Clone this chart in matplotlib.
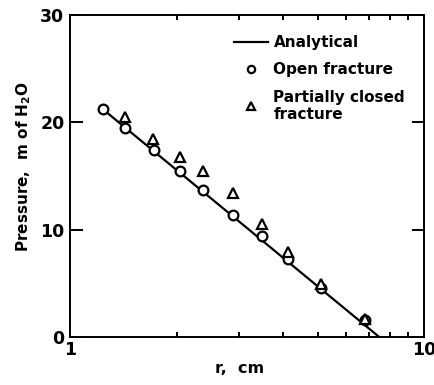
import numpy as np
import matplotlib
matplotlib.use("Agg")
import matplotlib.pyplot as plt
from matplotlib.ticker import FixedLocator, NullFormatter

# values
r_open = [1.24, 1.43, 1.73, 2.05, 2.37, 2.88, 3.49, 4.12, 5.13, 6.80]
p_open = [21.2, 19.5, 17.4, 15.5, 13.7, 11.4, 9.4, 7.3, 4.6, 1.6]

r_closed = [1.43, 1.72, 2.05, 2.37, 2.88, 3.49, 4.12, 5.13, 6.80]
p_closed = [20.5, 18.4, 16.8, 15.5, 13.4, 10.5, 7.9, 4.9, 1.7]

r_analytic = [1.24, 7.46]
p_analytic = [21.2, 0.0]

y_ticks = [0, 10, 20, 30]
x_major = [1, 10]
x_minor = [2, 3, 4, 5, 6, 7, 8, 9]

plt.rcParams['font.family'] = ['DejaVu Sans']
plt.rcParams['font.weight'] = 'bold'

fig = plt.figure(figsize=(4.35, 3.85), dpi=100)
ax = fig.add_axes([0.161, 0.125, 0.814, 0.836])

ax.plot(r_analytic, p_analytic, color='black', lw=1.6, label='Analytical')
ax.plot(r_open, p_open, ls='none', marker='o', ms=7, mfc='white',
        mec='black', mew=1.6, label='Open fracture')
ax.plot(r_closed, p_closed, ls='none', marker='^', ms=7, mfc='white',
        mec='black', mew=1.6, label='Partially closed\nfracture')

ax.set_xscale('log')
ax.set_xlim(1, 10)
ax.set_ylim(0, 30)
ax.xaxis.set_major_locator(FixedLocator(x_major))
ax.xaxis.set_minor_locator(FixedLocator(x_minor))
ax.xaxis.set_minor_formatter(NullFormatter())
ax.set_xticklabels(['1', '10'])
ax.set_yticks(y_ticks)

ax.tick_params(which='both', direction='in', top=True, right=True,
               width=1.4, labelsize=12.5)
ax.tick_params(which='major', length=9)
ax.tick_params(which='minor', length=3.6)
ax.tick_params(axis='x', which='major', length=0, pad=3)
ax.tick_params(axis='y', pad=4)
for s in ax.spines.values():
    s.set_linewidth(1.4)

ax.set_xlabel('r,  cm', fontsize=11.5, fontweight='bold', labelpad=4)
ax.xaxis.set_label_coords(0.48, -0.075)
ax.set_ylabel('Pressure,  m of H$_2$O', fontsize=11, fontweight='bold')
ax.yaxis.set_label_coords(-0.105, 0.53)

leg = ax.legend(loc='upper right', frameon=False, fontsize=11,
                handlelength=2.2, handletextpad=0.35, labelspacing=0.8,
                markerscale=0.75, bbox_to_anchor=(0.985, 0.98))

fig.savefig('out.png', dpi=100)
